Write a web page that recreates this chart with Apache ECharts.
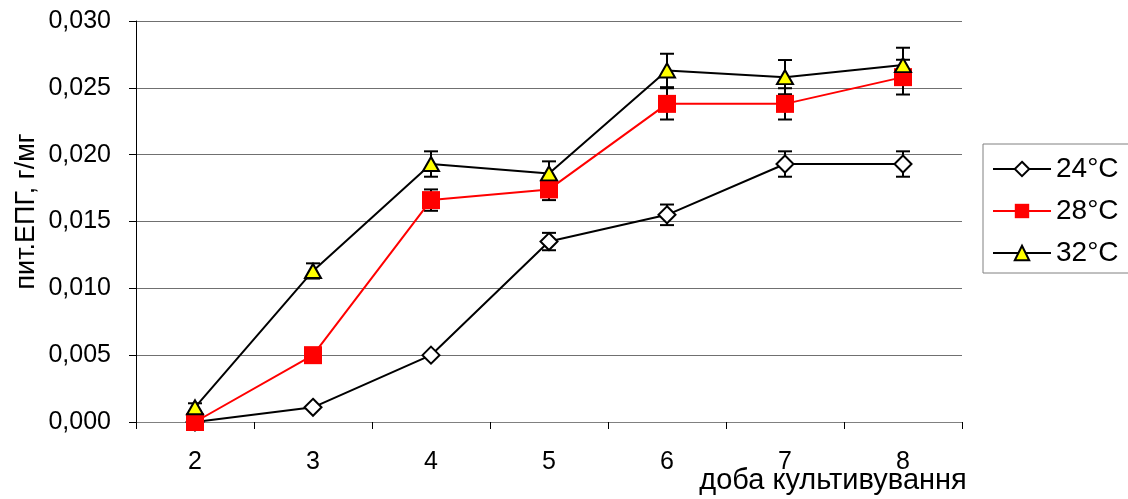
<!DOCTYPE html>
<html>
<head>
<meta charset="utf-8">
<script src="https://cdn.jsdelivr.net/npm/echarts@6/dist/echarts.min.js"></script>
<style>
  html, body { margin: 0; padding: 0; background: #fff; }
  #chart { width: 1128px; height: 499px; }
</style>
</head>
<body>
<div id="chart"></div>
<script>
  // доба культивування
  var days = ['2', '3', '4', '5', '6', '7', '8']
  // середні значення
  var t24 = [0, 0.0011, 0.005, 0.0135, 0.0155, 0.0193, 0.0193]
  var t28 = [0, 0.005, 0.0166, 0.0174, 0.0238, 0.0238, 0.0258]
  var t32 = [0.0011, 0.0113, 0.0193, 0.0186, 0.0263, 0.0258, 0.0267]
  // похибки
  var e24 = [0, 0, 0, 0.00065, 0.00077, 0.00095, 0.00095]
  var e28 = [0, 0, 0.0008, 0.0008, 0.00117, 0.00117, 0.0013]
  var e32 = [0.0003, 0.00057, 0.00095, 0.0009, 0.00125, 0.00128, 0.0013]

  var font = 'Liberation Sans'

  function errData(vals, errs) {
    return vals.map(function (v, i) { return [i, v - errs[i], v + errs[i]] })
  }

  function errSeries(name, vals, errs) {
    return {
      name: name,
      type: 'custom',
      z: 1,
      data: errData(vals, errs),
      renderItem: function (params, api) {
        var lo = api.coord([api.value(0), api.value(1)])
        var hi = api.coord([api.value(0), api.value(2)])
        var w = 7
        var st = { stroke: '#000', lineWidth: 2 }
        return {
          type: 'group',
          children: [
            { type: 'line', shape: { x1: lo[0], y1: lo[1], x2: hi[0], y2: hi[1] }, style: st },
            { type: 'line', shape: { x1: lo[0] - w, y1: lo[1], x2: lo[0] + w, y2: lo[1] }, style: st },
            { type: 'line', shape: { x1: hi[0] - w, y1: hi[1], x2: hi[0] + w, y2: hi[1] }, style: st }
          ]
        }
      }
    }
  }

  var chart = echarts.init(document.getElementById('chart'))
  var option = {
    animation: false,
    backgroundColor: '#fff',
    textStyle: { fontFamily: font },
    grid: { left: 136, right: 166, top: 21, bottom: 77, containLabel: false, outerBoundsMode: 'none' },
    legend: {
      data: ['24°C', '28°C', '32°C'],
      orient: 'vertical',
      left: 983,
      top: 144,
      itemWidth: 58,
      itemHeight: 18,
      itemGap: 14,
      padding: [11, 20, 6, 9],
      borderColor: '#808080',
      borderWidth: 1,
      textStyle: { fontFamily: font, fontSize: 28, color: '#000', lineHeight: 28 }
    },
    xAxis: {
      type: 'category',
      data: days,
      boundaryGap: true,
      name: 'доба культивування',
      nameLocation: 'middle',
      nameGap: 44,
      nameMoveOverlap: false,
      nameTextStyle: { fontFamily: font, fontSize: 29, color: '#000', padding: [0, 0, 0, 568] },
      axisLine: { lineStyle: { color: '#808080', width: 1 } },
      axisTick: { show: true, length: 7, lineStyle: { color: '#000' } },
      axisLabel: { fontFamily: font, fontSize: 25, color: '#000', margin: 28 },
      splitLine: { show: false }
    },
    yAxis: {
      type: 'value',
      min: 0,
      max: 0.03,
      interval: 0.005,
      name: 'пит.ЕПГ, г/мг',
      nameLocation: 'middle',
      nameGap: 96,
      nameMoveOverlap: false,
      nameTextStyle: { fontFamily: font, fontSize: 27, color: '#000', padding: [0, 0, 0, 20] },
      axisLine: { show: true, lineStyle: { color: '#000', width: 1 } },
      axisTick: { show: true, length: 7, lineStyle: { color: '#000' } },
      axisLabel: {
        fontFamily: font, fontSize: 25, color: '#000', margin: 25,
        formatter: function (v) { return v.toFixed(3).replace('.', ',') }
      },
      splitLine: { show: true, lineStyle: { color: '#707070', width: 1 } }
    },
    series: [
      errSeries('e24', t24, e24),
      errSeries('e28', t28, e28),
      errSeries('e32', t32, e32),
      {
        name: '24°C',
        type: 'line',
        z: 3,
        data: t24,
        symbol: 'diamond',
        symbolSize: 17,
        lineStyle: { color: '#000', width: 2 },
        itemStyle: { color: '#fff', borderColor: '#000', borderWidth: 2 }
      },
      {
        name: '28°C',
        type: 'line',
        z: 4,
        data: t28,
        symbol: 'rect',
        symbolSize: 18,
        lineStyle: { color: '#ff0000', width: 2 },
        itemStyle: { color: '#ff0000', borderColor: '#ff0000', borderWidth: 0 }
      },
      {
        name: '32°C',
        type: 'line',
        z: 5,
        data: t32,
        symbol: 'triangle',
        symbolSize: [16, 14],
        lineStyle: { color: '#000', width: 2 },
        itemStyle: { color: '#ffff00', borderColor: '#000', borderWidth: 2 }
      }
    ]
  }
  chart.setOption(option)
</script>
</body>
</html>
